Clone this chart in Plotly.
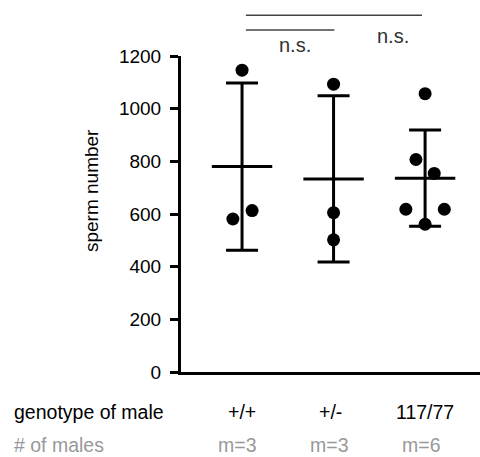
import numpy as np
import plotly.graph_objects as go

# ---- data ----
categories = ["+/+", "+/-", "117/77"]
n_labels = ["m=3", "m=3", "m=6"]
wt_values = [1146, 581, 613]
het_values = [1093, 605, 502]
mut_values = [1057, 807, 754, 618, 618, 561]
y_ticks = [0, 200, 400, 600, 800, 1000, 1200]

groups = [wt_values, het_values, mut_values]

# ---- layout constants (jitter offsets in category units) ----
offsets = [
    [0.0, -0.10, 0.11],
    [0.0, 0.0, 0.0],
    [0.0, -0.10, 0.10, -0.21, 0.21, 0.0],
]
FONT = "Liberation Sans, Arial, Helvetica, sans-serif"

fig = go.Figure()

# individual points
for gi, (vals, offs) in enumerate(zip(groups, offsets)):
    fig.add_trace(go.Scatter(
        x=[gi + o for o in offs], y=vals, mode="markers",
        marker=dict(color="black", size=13, line=dict(width=0)),
        showlegend=False, hoverinfo="y", cliponaxis=False))

# mean +/- SD
means = [float(np.mean(v)) for v in groups]
sds = [float(np.std(v, ddof=1)) for v in groups]
fig.add_trace(go.Scatter(
    x=list(range(len(categories))), y=means, mode="markers",
    marker=dict(color="rgba(0,0,0,0)", size=1),
    error_y=dict(type="data", array=sds, visible=True, color="black",
                 thickness=3, width=16),
    error_x=dict(type="constant", value=0.33, visible=True, color="black",
                 thickness=3, width=0),
    showlegend=False, hoverinfo="y", cliponaxis=False))

fig.update_layout(
    width=480, height=457,
    margin=dict(l=181, r=0, t=55.5, b=84.5),
    paper_bgcolor="white", plot_bgcolor="white",
    font=dict(family=FONT, size=19, color="black"),
    showlegend=False,
    xaxis=dict(range=[-0.667, 2.6], showgrid=False, zeroline=False,
               showticklabels=False, ticks="", showline=True,
               linecolor="black", linewidth=3),
    yaxis=dict(range=[0, 1200], tickvals=y_ticks, showgrid=False,
               zeroline=False, showline=True, linecolor="black",
               linewidth=3, ticks="outside", ticklen=8, tickwidth=2.5,
               tickcolor="black", tickfont=dict(size=19),
               ticklabelstandoff=5),
)

# y axis title
fig.add_annotation(text="sperm number", xref="paper", yref="paper",
                   x=-0.301, y=0.5726, textangle=-90, showarrow=False,
                   font=dict(size=19, color="black"),
                   xanchor="center", yanchor="middle")

# bottom label rows
ROW1, ROW2 = -0.128, -0.232
fig.add_annotation(text="genotype of male", xref="paper", yref="paper",
                   x=-0.565, y=ROW1, xanchor="left", yanchor="middle",
                   showarrow=False, font=dict(size=19.5, color="black"))
fig.add_annotation(text="# of males", xref="paper", yref="paper",
                   x=-0.565, y=ROW2, xanchor="left", yanchor="middle",
                   showarrow=False, font=dict(size=19.5, color="#999999"))
for i, (c, n) in enumerate(zip(categories, n_labels)):
    fig.add_annotation(text=c, xref="x", yref="paper", x=i - (0.03 if i == 1 else 0),
                       y=ROW1, xanchor="center", yanchor="middle",
                       showarrow=False, font=dict(size=19.5, color="black"))
    fig.add_annotation(text=n, xref="x", yref="paper", x=i - 0.05,
                       y=ROW2, xanchor="center", yanchor="middle",
                       showarrow=False, font=dict(size=19.5, color="#999999"))

# significance brackets
sig_color = "#444444"
fig.add_shape(type="line", xref="paper", yref="paper",
              x0=0.217, x1=0.806, y0=1.1287, y1=1.1287,
              line=dict(color=sig_color, width=1.5))
fig.add_shape(type="line", xref="paper", yref="paper",
              x0=0.217, x1=0.513, y0=1.0826, y1=1.0826,
              line=dict(color=sig_color, width=1.5))
fig.add_annotation(text="n.s.", xref="paper", yref="paper",
                   x=(295 - 181) / 299, y=(372.5 - 44) / 317,
                   xanchor="center", yanchor="middle", showarrow=False,
                   font=dict(size=20, color="#333333"))
fig.add_annotation(text="n.s.", xref="paper", yref="paper",
                   x=(393 - 181) / 299, y=(372.5 - 35) / 317,
                   xanchor="center", yanchor="middle", showarrow=False,
                   font=dict(size=20, color="#333333"))

fig.write_html("out.html")
